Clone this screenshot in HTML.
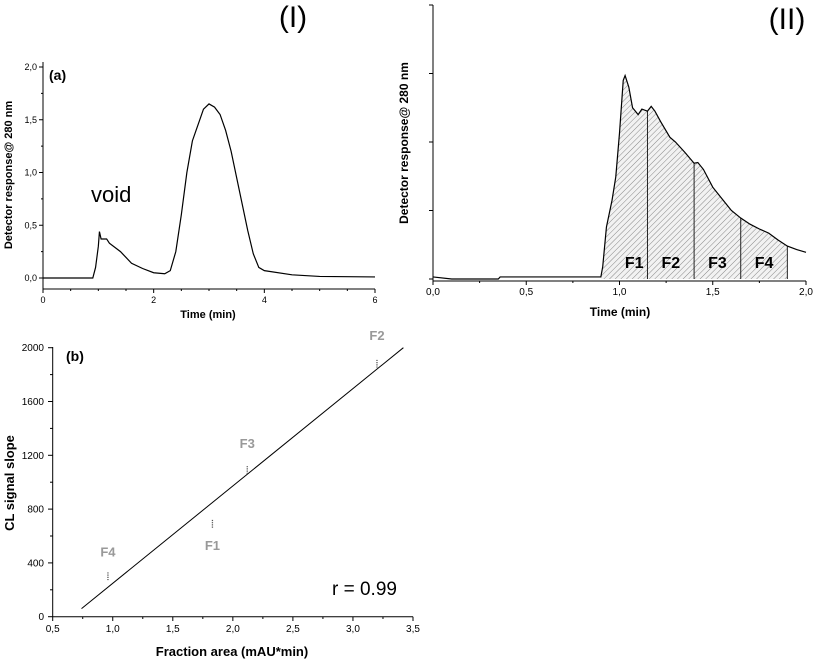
<!DOCTYPE html>
<html><head><meta charset="utf-8"><style>
html,body{margin:0;padding:0;background:#fff;}
svg{display:block;font-family:"Liberation Sans",Arial,sans-serif;}
</style></head><body>
<svg id="s" width="815" height="660" viewBox="0 0 815 660">
<defs>
<pattern id="hatch" patternUnits="userSpaceOnUse" width="4" height="4" patternTransform="rotate(45)">
<rect width="4" height="4" fill="#f2f2f2"/>
<line x1="0" y1="0" x2="0" y2="4" stroke="#888" stroke-width="1"/>
</pattern>
</defs>
<g id="ga"></g>
<g id="gb"></g>
<g id="gc"></g>
</svg>
<script>
// Chart (a)
const aTime=[0,0.9,0.95,1.0,1.02,1.05,1.1,1.15,1.2,1.4,1.6,1.8,2.0,2.2,2.3,2.4,2.5,2.6,2.7,2.8,2.9,3.0,3.1,3.2,3.3,3.4,3.5,3.6,3.7,3.8,3.9,4.0,4.5,5.0,6.0];
const aResp=[0,0,0.1,0.3,0.44,0.37,0.37,0.37,0.33,0.25,0.14,0.09,0.05,0.04,0.07,0.25,0.6,1.0,1.3,1.45,1.6,1.65,1.62,1.55,1.4,1.2,0.95,0.7,0.45,0.23,0.1,0.07,0.03,0.015,0.01];
const aXTicks=["0","2","4","6"];
const aYTicks=["0,0","0,5","1,0","1,5","2,0"];
// Chart (II)
const bTime=[0,0.1,0.35,0.36,0.9,0.91,0.93,0.96,0.98,1.0,1.02,1.03,1.05,1.07,1.1,1.12,1.15,1.17,1.19,1.22,1.27,1.3,1.35,1.4,1.42,1.45,1.5,1.55,1.6,1.65,1.7,1.75,1.8,1.85,1.9,1.95,2.0];
const bResp=[0.03,0,0,0.03,0.03,0.18,0.76,1.15,1.49,2.13,2.9,2.97,2.8,2.5,2.4,2.48,2.45,2.52,2.45,2.3,2.07,2.0,1.85,1.69,1.7,1.6,1.34,1.17,1.0,0.89,0.8,0.73,0.67,0.57,0.48,0.43,0.39];
const bBounds=[0.9,1.15,1.4,1.65,1.9];
const bFracLabels=["F1","F2","F3","F4"];
const bXTicks=["0,0","0,5","1,0","1,5","2,0"];
// Chart (b)
const cLabels=["F4","F1","F3","F2"];
const cArea=[0.96,1.83,2.12,3.2];
const cSlope=[300,690,1090,1880];
const cFitX=[0.74,3.42];
const cFitY=[60,2000];
const cXTicks=["0,5","1,0","1,5","2,0","2,5","3,0","3,5"];
const cYTicks=["0","400","800","1200","1600","2000"];

const NS="http://www.w3.org/2000/svg";
function mk(p,t,a,txt){const e=document.createElementNS(NS,t);for(const k in a)e.setAttribute(k,a[k]);if(txt!==undefined)e.textContent=txt;p.appendChild(e);return e;}

// ---- Chart a
(function(){
const g=document.getElementById('ga');
const X=v=>43+v*(375-43)/6, Y=v=>278-v*105.5;
let l=mk(g,'line',{x1:43,y1:62,x2:43,y2:289,stroke:'#000'});

l=mk(g,'line',{x1:43,y1:289,x2:375,y2:289,stroke:'#000'});

for(let i=0;i<=12;i++){const x=X(i*0.5);mk(g,'line',{x1:x,y1:289,x2:x,y2:i%4==0?293:291,stroke:'#000'});}
aXTicks.forEach((t,i)=>{const e=mk(g,'text',{x:X(i*2),y:303,'font-size':9,'text-anchor':'middle'},t);
});
for(let i=0;i<=8;i++){const y=Y(i*0.25);mk(g,'line',{x1:43,y1:y,x2:i%2==0?39:41,y2:y,stroke:'#000'});}
aYTicks.forEach((t,i)=>{const e=mk(g,'text',{x:37,y:Y(i*0.5)+3,'font-size':9,'text-anchor':'end'},t);
});
const pts=aTime.map((t,i)=>X(t)+','+Y(aResp[i])).join(' ');
l=mk(g,'polyline',{points:pts,fill:'none',stroke:'#000','stroke-width':1.2});

l=mk(g,'text',{x:208,y:318,'font-size':11,'font-weight':'bold','text-anchor':'middle'},'Time (min)');

l=mk(g,'text',{x:12,y:175,'font-size':11,'font-weight':'bold','text-anchor':'middle',transform:'rotate(-90 12 175)'},'Detector response@ 280 nm');

l=mk(g,'text',{x:49,y:80,'font-size':14,'font-weight':'bold'},'(a)');

l=mk(g,'text',{x:91,y:202,'font-size':22},'void');

l=mk(g,'text',{x:293,y:27,'font-size':30,'text-anchor':'middle'},'(I)');

})();

// ---- Chart II
(function(){
const g=document.getElementById('gb');
const X=v=>433+v*(806-433)/2, Y=v=>279-v*68.5;
const pts=bTime.map((t,i)=>[X(t),Y(bResp[i])]);
// filled area between bounds
const lo=bBounds[0],hi=bBounds[bBounds.length-1];
const interp=t=>{for(let i=1;i<bTime.length;i++)if(t<=bTime[i]){const f=(t-bTime[i-1])/(bTime[i]-bTime[i-1]);return bResp[i-1]+f*(bResp[i]-bResp[i-1]);}return bResp[bResp.length-1];};
let d='M'+X(lo)+','+Y(0);
d+=' L'+X(lo)+','+Y(interp(lo));
bTime.forEach((t,i)=>{if(t>lo&&t<hi)d+=' L'+X(t)+','+Y(bResp[i]);});
d+=' L'+X(hi)+','+Y(interp(hi))+' L'+X(hi)+','+Y(0)+'Z';
let l=mk(g,'path',{d:d,fill:'url(#hatch)',stroke:'none'});

bBounds.forEach((b,i)=>{if(i==0)return;const e=mk(g,'line',{x1:X(b),y1:Y(0),x2:X(b),y2:Y(interp(b)),stroke:'#222','stroke-width':1});
});
bFracLabels.forEach((t,i)=>{const e=mk(g,'text',{x:(X(bBounds[i])+X(bBounds[i+1]))/2+(i==0?10:0),y:268,'font-size':16,'font-weight':'bold','text-anchor':'middle'},t);
});
l=mk(g,'polyline',{points:pts.map(p=>p.join(',')).join(' '),fill:'none',stroke:'#000','stroke-width':1.2});

l=mk(g,'line',{x1:433,y1:5,x2:433,y2:281,stroke:'#000'});

l=mk(g,'line',{x1:433,y1:281,x2:806,y2:281,stroke:'#000'});

mk(g,'line',{x1:433,y1:5,x2:429,y2:5,stroke:'#000'});
for(let i=0;i<=3;i++){const y=Y(i);mk(g,'line',{x1:433,y1:y,x2:429,y2:y,stroke:'#000'});}
for(let i=0;i<=8;i++){const x=X(i*0.25);mk(g,'line',{x1:x,y1:281,x2:x,y2:i%2==0?285:283,stroke:'#000'});}
bXTicks.forEach((t,i)=>{const e=mk(g,'text',{x:X(i*0.5),y:295,'font-size':10,'text-anchor':'middle'},t);
});
l=mk(g,'text',{x:620,y:316,'font-size':12,'font-weight':'bold','text-anchor':'middle'},'Time (min)');

l=mk(g,'text',{x:408,y:143,'font-size':12,'font-weight':'bold','text-anchor':'middle',transform:'rotate(-90 408 143)'},'Detector response@ 280 nm');

l=mk(g,'text',{x:787,y:29,'font-size':30,'text-anchor':'middle'},'(II)');

})();

// ---- Chart b
(function(){
const g=document.getElementById('gc');
const X=v=>52.7+(v-0.5)*(413-52.7)/3, Y=v=>616.7-v*(616.7-347.7)/2000;
let l=mk(g,'line',{x1:52.7,y1:347,x2:52.7,y2:617,stroke:'#000'});

l=mk(g,'line',{x1:52.7,y1:616.7,x2:413,y2:616.7,stroke:'#000'});

for(let i=0;i<=12;i++){const x=X(0.5+i*0.25);mk(g,'line',{x1:x,y1:616.7,x2:x,y2:i%2==0?621:619,stroke:'#000'});}
cXTicks.forEach((t,i)=>{const e=mk(g,'text',{x:X(0.5+i*0.5),y:632,'font-size':10,'text-anchor':'middle'},t);
});
for(let i=0;i<=10;i++){const y=Y(i*200);mk(g,'line',{x1:52.7,y1:y,x2:i%2==0?48:50,y2:y,stroke:'#000'});}
cYTicks.forEach((t,i)=>{const e=mk(g,'text',{x:44,y:Y(i*400)+3.5,'font-size':10,'text-anchor':'end'},t);
});
l=mk(g,'line',{x1:X(cFitX[0]),y1:Y(cFitY[0]),x2:X(cFitX[1]),y2:Y(cFitY[1]),stroke:'#000','stroke-width':1});

const off=[[0,-20],[0,26],[0,-22],[0,-24]];
cLabels.forEach((t,i)=>{const x=X(cArea[i]),y=Y(cSlope[i]);
const e=mk(g,'line',{x1:x,y1:y-4,x2:x,y2:y+4,stroke:'#555','stroke-width':1.3,'stroke-dasharray':'1.2,1'});

const tx=mk(g,'text',{x:x,y:y+off[i][1]+(off[i][1]<0?0:0),'font-size':13,'font-weight':'bold',fill:'#999','text-anchor':'middle'},t);
});
l=mk(g,'text',{x:332,y:595,'font-size':19},'r = 0.99');

l=mk(g,'text',{x:66,y:361,'font-size':14,'font-weight':'bold'},'(b)');

l=mk(g,'text',{x:232,y:656,'font-size':13,'font-weight':'bold','text-anchor':'middle'},'Fraction area (mAU*min)');

l=mk(g,'text',{x:14,y:483,'font-size':13,'font-weight':'bold','text-anchor':'middle',transform:'rotate(-90 14 483)'},'CL signal slope');

})();
</script>
</body></html>
